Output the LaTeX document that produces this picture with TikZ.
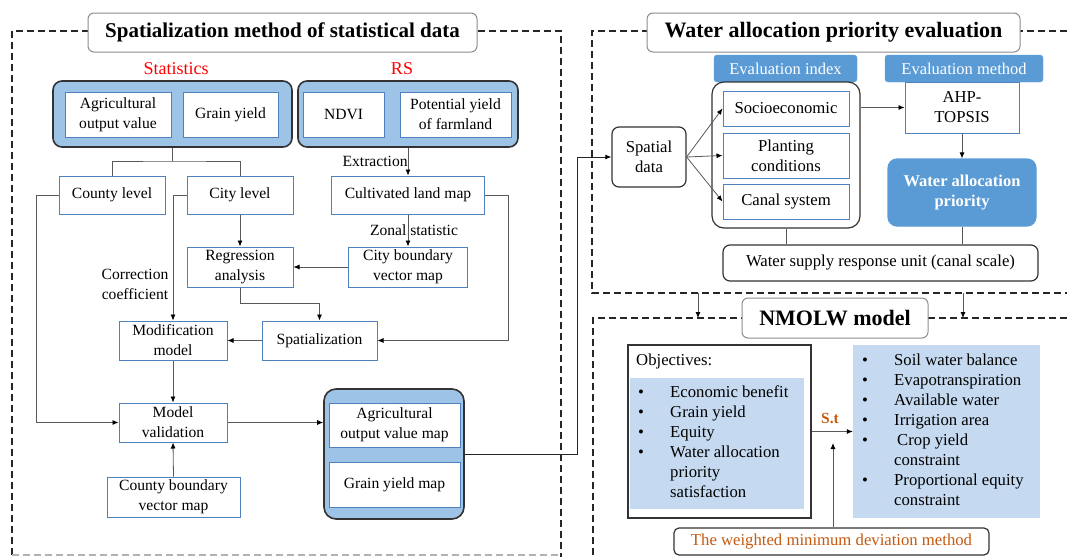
\documentclass[tikz,border=0pt]{standalone}
\usepackage{fontspec}
\setmainfont{Liberation Serif}
\usetikzlibrary{arrows.meta}
\definecolor{boxblue}{HTML}{4F81BD}
\definecolor{grpfill}{HTML}{9DC3E6}
\definecolor{pnlfill}{HTML}{C5DAF0}
\definecolor{hdrblue}{HTML}{5B9BD5}
\definecolor{orng}{HTML}{C55A11}
\definecolor{rsred}{HTML}{FF0000}
\tikzset{
  txt/.style={font=\fontsize{15.6}{20}\selectfont},
  txtr/.style={font=\fontsize{16.7}{20}\selectfont},
  box/.style={txt, draw=boxblue, line width=1pt, fill=white, align=center, inner sep=1pt},
  boxr/.style={box, txtr},
  grp/.style={draw=black!80, line width=1.6pt, rounded corners=9pt, fill=grpfill},
  rbox/.style={txtr, draw=black!80, line width=1.2pt, rounded corners=7pt, fill=white, align=center, inner sep=1pt},
  ttl/.style={draw=black!45, line width=1pt, rounded corners=6pt, fill=white, font=\fontsize{22}{24}\selectfont\bfseries},
  hdr/.style={font=\fontsize{16.5}{18}\selectfont, fill=hdrblue, draw=hdrblue, rounded corners=3pt, text=white},
  pnl/.style={fill=pnlfill},
  region/.style={dash pattern=on 7pt off 4pt, line width=1.2pt, black!85},
  ln/.style={draw=black!65, line width=0.8pt},
  arr/.style={ln, -{Latex[length=6pt,width=5pt,black]}},
}
\begin{document}
\begin{tikzpicture}[x=1pt,y=-1pt]
\useasboundingbox (0,0) rectangle (1067,557);
% dashed regions
\draw[region] (12,555) -- (12,31) -- (561,31) -- (561,557);
\draw[region, black!30] (12,555) -- (561,555);
\draw[region] (1067,31) -- (592,31) -- (592,293) -- (1067,293);
\draw[region] (1067,318) -- (593,318) -- (593,557);

% ---- Spatialization method of statistical data
\node[ttl, font=\fontsize{21}{24}\selectfont\bfseries, minimum width=389pt, minimum height=39pt] (ttlspat) at (282.5,32.5) {Spatialization method of statistical data};
\node[text=rsred, font=\fontsize{18}{20}\selectfont] (lblstat) at (176,69) {Statistics};
\node[text=rsred, font=\fontsize{18}{20}\selectfont] (lblrs) at (402,69) {RS};

\node[grp, minimum width=239pt, minimum height=66pt] (statsgrp) at (172.5,114) {};
\node[box, minimum width=106pt, minimum height=45pt] (agri) at (118,114.5) {Agricultural\\output value};
\node[box, minimum width=95pt, minimum height=45pt] (grain) at (230.5,114.5) {Grain yield};
\node[grp, minimum width=220pt, minimum height=66pt] (rsgrp) at (408,114) {};
\node[box, minimum width=81pt, minimum height=45pt] (ndvi) at (343.5,114.5) {NDVI};
\node[box, minimum width=111pt, minimum height=45pt] (potyld) at (455.5,114.5) {Potential yield\\of farmland};

\node[box, minimum width=106pt, minimum height=38pt] (county) at (112,195) {County level};
\node[box, minimum width=106pt, minimum height=38pt] (city) at (240,195) {City level};
\node[box, minimum width=153pt, minimum height=38pt] (cultiv) at (408,195) {Cultivated land map};
\node[box, minimum width=106pt, minimum height=40pt] (regress) at (240,267) {Regression\\analysis};
\node[box, minimum width=119pt, minimum height=40pt] (citybnd) at (408,267) {City boundary\\vector map};
\node[box, minimum width=108pt, minimum height=39pt] (modif) at (173,340.5) {Modification\\model};
\node[box, minimum width=115pt, minimum height=39pt] (spatz) at (319.5,340.5) {Spatialization};
\node[box, minimum width=108pt, minimum height=39pt] (valid) at (173,422.5) {Model\\validation};
\node[box, minimum width=133pt, minimum height=40pt] (cntybnd) at (173.5,497) {County boundary\\vector map};

\node[grp, rounded corners=12pt, minimum width=140pt, minimum height=130pt] (mapsgrp) at (394,454) {};
\node[box, minimum width=131pt, minimum height=44pt] (agrimap) at (394.5,425) {Agricultural\\output value map};
\node[box, minimum width=131pt, minimum height=45pt] (grainmap) at (394.5,484.5) {Grain yield map};

\node[txt, align=center] (corr) at (135,284) {Correction\\coefficient};

\coordinate (split) at (172.5,161);
\coordinate (cl) at (36,195);
\coordinate (cr) at (508,195);
\coordinate (mr) at (577,454);

\draw[ln] (statsgrp.south) -- (split);
\draw[ln] (county.north) |- (split) -| (city.north);
\draw[arr] (rsgrp.south) -- (cultiv.north) node[midway, anchor=east, inner sep=0pt, txt] {Extraction};
\draw[arr] (cultiv.south) -- (citybnd.north) node[midway, xshift=6pt, txt] {Zonal statistic};
\draw[arr] (city.south) -- (regress.north);
\draw[arr] (citybnd.west) -- (regress.east);
\draw[arr] (city.west) -| (modif.north);
\draw[arr] (county.west) -- (cl) |- (valid.west);
\draw[arr] (regress.south) -- ++(0,16) -| (spatz.north);
\draw[arr] (spatz.west) -- (modif.east);
\draw[arr] (cultiv.east) -- (cr) |- (spatz.east);
\draw[arr] (modif.south) -- (valid.north);
\draw[arr] (cntybnd.north) -- (valid.south);
\draw[arr] (valid.east) -- (valid.east -| mapsgrp.west);

% ---- Water allocation priority evaluation
\node[ttl, minimum width=373pt, minimum height=39pt] (ttlwap) at (833.5,32.5) {Water allocation priority evaluation};
\node[hdr, minimum width=143pt, minimum height=27pt] (idxhdr) at (785.5,68.5) {Evaluation index};
\node[hdr, minimum width=158pt, minimum height=27pt] (methhdr) at (964,68.5) {Evaluation method};
\node[rbox, rounded corners=12pt, minimum width=148pt, minimum height=146pt] (idxgrp) at (786,155) {};
\node[boxr, minimum width=126pt, minimum height=35pt] (socio) at (786,108.5) {Socioeconomic};
\node[boxr, minimum width=126pt, minimum height=45pt] (plant) at (786,155.5) {Planting\\conditions};
\node[boxr, minimum width=126pt, minimum height=35pt] (canal) at (786,201.5) {Canal system};
\node[rbox, minimum width=74pt, minimum height=60pt] (spatial) at (649,157) {Spatial\\data};
\node[boxr, minimum width=114pt, minimum height=51pt] (ahp) at (962,107.5) {AHP-\\TOPSIS};
\node[rbox, draw=hdrblue, fill=hdrblue, text=white, font=\fontsize{16.5}{20}\selectfont\bfseries, rounded corners=9pt, minimum width=148pt, minimum height=67pt] (wap) at (962,192.5) {Water allocation\\priority};
\node[rbox, minimum width=315pt, minimum height=36pt] (supply) at (880.5,263) {Water supply response unit (canal scale)};

\draw[arr, black!85, line width=1pt] (mapsgrp.east) -- (mr) |- (spatial.west);
\draw[arr] (spatial.east) -- (socio.west);
\draw[arr] (spatial.east) -- (plant.west);
\draw[arr] (spatial.east) -- (canal.west);
\draw[arr] (ahp.west -| idxgrp.east) -- (ahp.west);
\draw[arr] (ahp.south) -- (wap.north);
\draw[ln] (idxgrp.south) -- (idxgrp.south |- supply.north);
\draw[ln] (wap.south) -- (wap.south |- supply.north);

% ---- NMOLW model
\coordinate (dn1) at (698,293);
\coordinate (dn2) at (963,293);
\coordinate (up1) at (698,318);
\coordinate (up2) at (963,318);
\draw[arr] (dn1) -- (up1);
\draw[arr] (dn2) -- (up2);
\node[ttl, minimum width=186pt, minimum height=40pt] (ttlnm) at (835,318) {NMOLW model};

\node[draw=black!80, line width=1.3pt, fill=white, minimum width=183pt, minimum height=173pt] (objbox) at (719.5,431.5) {};
\node[pnl, minimum width=174pt, minimum height=131pt] (objpnl) at (717,443.5) {};
\node[txtr, anchor=west, inner sep=0pt] (objttl) at (636,361) {Objectives:};
\node[txtr, anchor=north west, inner sep=0pt] (objlist) at (638,383) {%
\begin{tabular}{@{}p{32pt}@{}l@{}}
\textbullet & Economic benefit\\
\textbullet & Grain yield\\
\textbullet & Equity\\
\textbullet & Water allocation\\
 & priority\\
 & satisfaction
\end{tabular}};
\node[pnl, minimum width=187pt, minimum height=173pt] (cons) at (946.5,431.5) {};
\node[txtr, anchor=north west, inner sep=0pt] (conslist) at (862,351) {%
\begin{tabular}{@{}p{32pt}@{}l@{}}
\textbullet & Soil water balance\\
\textbullet & Evapotranspiration\\
\textbullet & Available water\\
\textbullet & Irrigation area\\
\textbullet & \hspace{3pt}Crop yield\\
 & constraint\\
\textbullet & Proportional equity\\
 & constraint
\end{tabular}};
\node[text=orng, font=\fontsize{15.5}{16}\selectfont\bfseries] (st) at (830,418) {S.t};
\node[rbox, text=orng, rounded corners=5pt, minimum width=315pt, minimum height=27pt] (wmd) at (831.5,541.5) {The weighted minimum deviation method};
\coordinate (sttip) at (833,443);

\draw[arr] (objbox.east) -- (cons.west);
\draw[arr] (wmd.north -| sttip) -- (sttip);
\end{tikzpicture}
\end{document}
